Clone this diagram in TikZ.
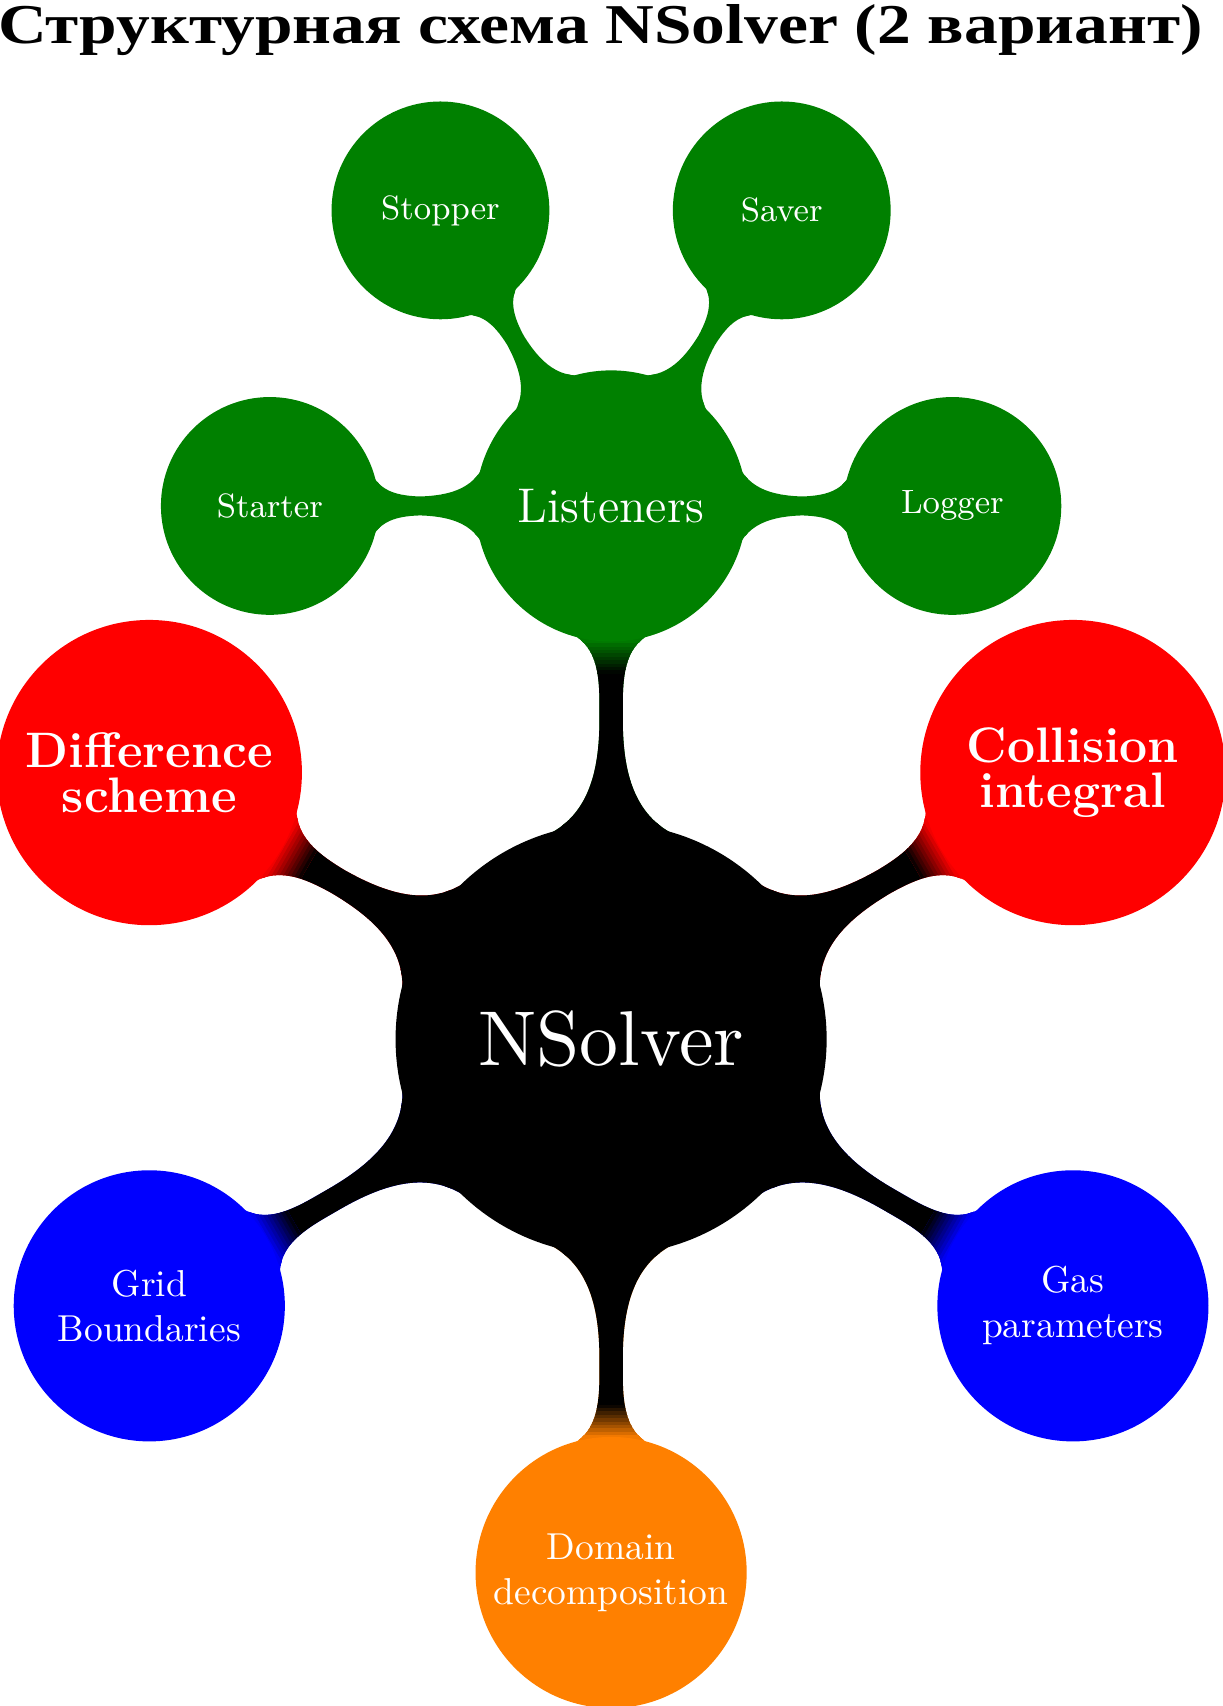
\documentclass[tikz,border=0pt]{standalone}
\usepackage{fontspec}
\newfontfamily\titlefont[FakeStretch=1.2]{Liberation Serif}
\newfontfamily\rootfont{lmroman10-regular.otf}
\usetikzlibrary{mindmap, backgrounds}

\begin{document}
\begin{tikzpicture}[
    mindmap,
    text=white,
    every node/.append style={align=center},
    root/.style={concept, concept color=black, minimum size=4cm, text width={}, font=\rootfont\huge},
    branch/.style={concept, concept color=#1, minimum size=2.5cm, text width={}, font=\normalsize},
    big branch/.style={branch=#1, minimum size=2.82cm, font=\fontsize{13.3}{12}\selectfont\bfseries},
    leaf/.style={concept, concept color=green!50!black, minimum size=2cm, text width={}, font=\small},
    link/.style={circle connection bar switch color=from (#1) to (#1)}
]
\useasboundingbox (-5.73,-6.252) rectangle (5.734,9.744);

% Title
\node[text=black, text width={}, anchor=base, inner sep=0pt] (title) at (-0.1,9.336)
    {\titlefont\bfseries\fontsize{15}{18}\selectfont Структурная схема NSolver (2 вариант)};

% Concepts
\node[root] (nsolver) at (0,0) {NSolver};
\node[branch=green!50!black, font=\fontsize{13}{15}\selectfont] (listeners) at (90:5) {Listeners};
\node[big branch=red] (collision) at (30:5) {Collision\\integral};
\node[branch=blue] (gas) at (-30:5) {Gas\\parameters};
\node[branch=orange] (domain) at (-90:5) {Domain\\decomposition};
\node[branch=blue] (grid) at (-150:5) {Grid\\Boundaries};
\node[big branch=red] (difference) at (150:5) {Difference\\scheme};

\node[leaf] (logger) at ([shift={(0:3.2)}]listeners.center) {Logger};
\node[leaf] (saver) at ([shift={(60:3.2)}]listeners.center) {Saver};
\node[leaf] (stopper) at ([shift={(120:3.2)}]listeners.center) {Stopper};
\node[leaf] (starter) at ([shift={(180:3.2)}]listeners.center) {Starter};

% Connections
\begin{scope}[on background layer]
\foreach \leafname in {logger, saver, stopper, starter}
    \path (listeners) to[link=green!50!black] (\leafname);

\foreach \name/\ang/\col/\rad in {listeners/90/green!50!black/1.25, collision/30/red/1.41,
        gas/-30/blue/1.25, domain/-90/orange/1.25, grid/-150/blue/1.25, difference/150/red/1.41}{
    \path (nsolver) to[link=\col] (\name);
    \begin{scope}
        \clip[rotate=\ang] (0,-3) rectangle ({4.68-\rad},3);
        \path (nsolver) to[link=black] (\name);
    \end{scope}
    % short fade into the colour of the branch
    \foreach \i in {0,...,9}{
        \pgfmathtruncatemacro\pct{10*\i+5}
        \begin{scope}
            \clip[rotate=\ang] ({4.68-\rad+0.032*\i},-3) rectangle ({4.68-\rad+0.032*(\i+1)+0.005},3);
            \path (nsolver) to[link=\col!\pct!black] (\name);
        \end{scope}
    }
}
\end{scope}
\end{tikzpicture}
\end{document}
